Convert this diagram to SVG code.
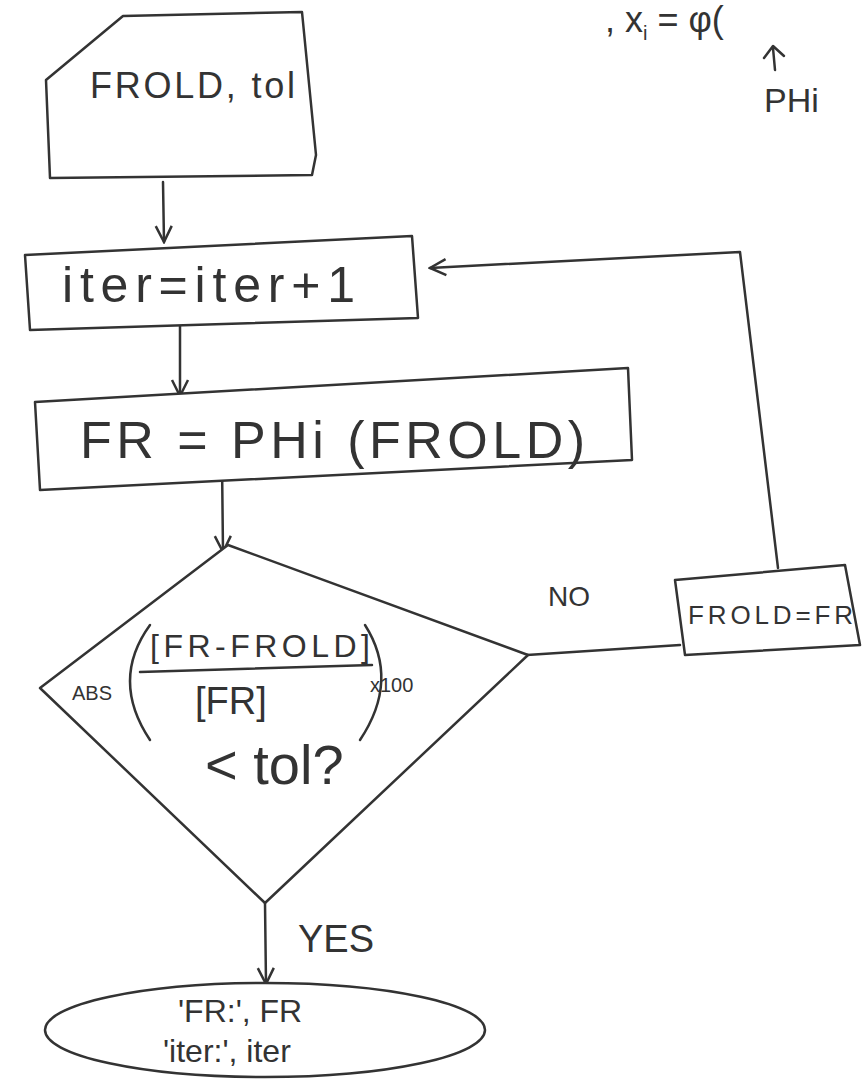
<svg xmlns="http://www.w3.org/2000/svg" width="863" height="1080" viewBox="0 0 863 1080">
<defs>
<style>
.s{fill:none;stroke:#333;stroke-width:2.5;stroke-linejoin:round;stroke-linecap:round}
.n{fill:#fff;stroke:#333;stroke-width:2.5;stroke-linejoin:round}
.t{font-family:"Liberation Sans",Arial,sans-serif;fill:#333}
</style>
<marker id="ah" viewBox="0 0 20 20" refX="18" refY="10" markerWidth="20" markerHeight="20" markerUnits="userSpaceOnUse" orient="auto">
<path d="M2,2 L18,10 L2,18" fill="none" stroke="#333" stroke-width="2.5"/>
</marker>
</defs>
<rect width="863" height="1080" fill="#fff"/>
<g id="note">
<text class="t" x="605" y="32" font-size="36">, x<tspan font-size="20" dy="8">i</tspan><tspan dy="-8"> = φ(</tspan></text>
<path class="s" d="M775,70 L773,48 M764,58 L773,46 L784,56"/>
<text class="t" x="764" y="112" font-size="34">PHi</text>
</g>
<g id="connectors">
<path class="s" d="M163,182 L164,242" marker-end="url(#ah)"/>
<path class="s" d="M180,318 L180,396" marker-end="url(#ah)"/>
<path class="s" d="M222,462 L223,552" stroke-width="6" marker-end="url(#ah)"/>
<path class="s" d="M527,655 L680,645"/>
<path class="s" d="M778,568 L740,252 L430,268" marker-end="url(#ah)"/>
<path class="s" d="M265,903 L266,984" marker-end="url(#ah)"/>
<text class="t" x="548" y="606" font-size="28">NO</text>
<text class="t" x="298" y="952" font-size="38">YES</text>
</g>
<g id="input">
<path class="n" d="M46,80 L123,16 L302,12 L316,155 L312,175 L50,178 Z"/>
<text class="t" x="90" y="98" font-size="36" textLength="205">FROLD, tol</text>
</g>
<g id="iter">
<path class="n" d="M25,255 L412,236 L418,318 L30,330 Z"/>
<text class="t" x="62" y="302" font-size="50" textLength="293">iter=iter+1</text>
</g>
<g id="phi">
<path class="n" d="M35,402 L628,368 L632,460 L40,490 Z"/>
<text class="t" x="80" y="458" font-size="52" textLength="505">FR = PHi (FROLD)</text>
</g>
<g id="decision">
<path class="n" d="M228,545 L528,655 L265,903 L40,688 Z"/>
<text class="t" x="72" y="700" font-size="20">ABS</text>
<path class="s" d="M150,625 Q110,680 150,740"/>
<path class="s" d="M365,625 Q400,680 360,740"/>
<text class="t" x="150" y="657" font-size="32" textLength="220">[FR-FROLD]</text>
<path class="s" d="M140,672 L372,665"/>
<text class="t" x="195" y="714" font-size="38">[FR]</text>
<text class="t" x="370" y="692" font-size="20">x100</text>
<text class="t" x="205" y="784" font-size="56">&lt; tol?</text>
</g>
<g id="update">
<path class="n" d="M675,580 L845,565 L860,645 L685,655 Z"/>
<text class="t" x="688" y="624" font-size="26" textLength="165">FROLD=FR</text>
</g>
<g id="output">
<ellipse class="n" cx="265" cy="1030" rx="220" ry="47"/>
<text class="t" x="178" y="1022" font-size="32">'FR:', FR</text>
<text class="t" x="163" y="1062" font-size="32">'iter:', iter</text>
</g>
</svg>
